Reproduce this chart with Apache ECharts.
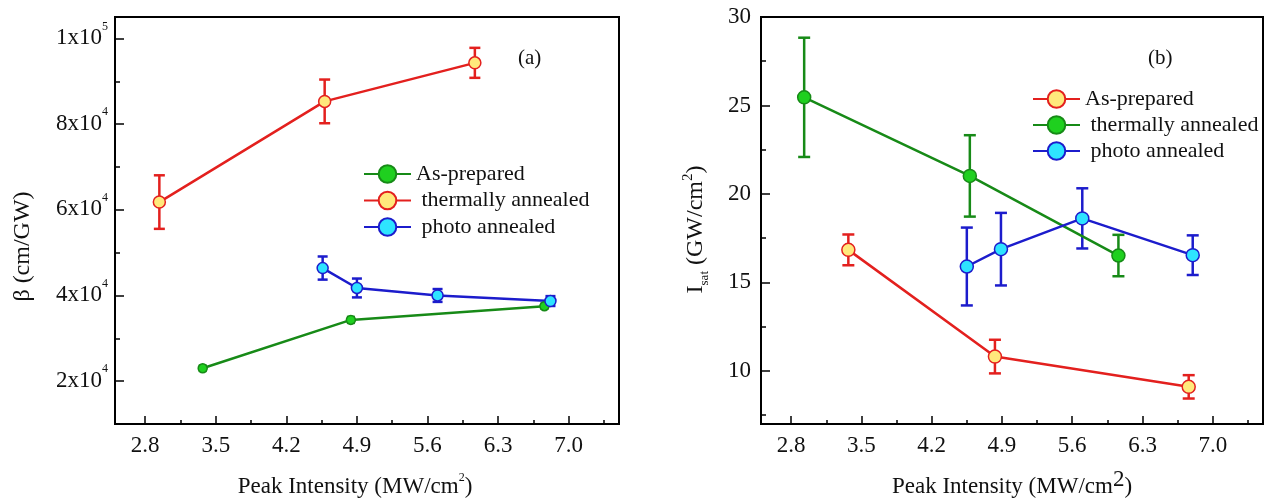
<!DOCTYPE html>
<html>
<head>
<meta charset="utf-8">
<script src="https://cdn.jsdelivr.net/npm/echarts@6/dist/echarts.min.js"></script>
<style>
html,body{margin:0;padding:0;background:#fff;}
#chart{width:1267px;height:502px;}
</style>
</head>
<body>
<div id="chart"></div>
<script>
// ---- tick values / labels ----
const xTicks = [2.8, 3.5, 4.2, 4.9, 5.6, 6.3, 7.0];
const xMinorTicks = [3.15, 3.85, 4.55, 5.25, 5.95, 6.65, 7.35];
const aYTicks = [20000, 40000, 60000, 80000, 100000];
const aYTickMantissa = ['2', '4', '6', '8', '1'];
const aYTickExponent = ['4', '4', '4', '4', '5'];
const aYMinorTicks = [30000, 50000, 70000, 90000];
const bYTicks = [10, 15, 20, 25, 30];
const bYMinorTicks = [7.5, 12.5, 17.5, 22.5, 27.5];

// ---- panel (a): beta (cm/GW) ----
const aAsPreparedX = [3.37, 4.84, 6.76];
const aAsPreparedY = [23000, 34300, 37500];
const aAsPreparedErr = [600, 700, 600];
const aThermalX = [2.94, 4.58, 6.07];
const aThermalY = [61800, 85300, 94300];
const aThermalErr = [6250, 5100, 3500];
const aPhotoX = [4.56, 4.90, 5.70, 6.82];
const aPhotoY = [46400, 41750, 40000, 38700];
const aPhotoErr = [2700, 2200, 1500, 1150];

// ---- panel (b): Isat (GW/cm2) ----
const bAsPreparedX = [3.37, 4.83, 6.76];
const bAsPreparedY = [16.84, 10.81, 9.10];
const bAsPreparedErr = [0.87, 0.95, 0.66];
const bThermalX = [2.93, 4.58, 6.06];
const bThermalY = [25.46, 21.02, 16.52];
const bThermalErr = [3.37, 2.3, 1.17];
const bPhotoX = [4.55, 4.89, 5.70, 6.80];
const bPhotoY = [15.9, 16.88, 18.62, 16.54];
const bPhotoErr = [2.2, 2.05, 1.7, 1.12];

const FONT = 'Liberation Serif';
const RED = '#e3201e', YEL = '#ffe97c';
const GRN = '#178a17', GRNF = '#1fd01f';
const BLU = '#1c1ccc', CYA = '#2ee4ff';

function pts(xs, ys) { return xs.map((x, i) => [x, ys[i]]); }
function errRows(xs, ys, es) { return xs.map((x, i) => [x, ys[i], es[i]]); }

function errSeries(name, xi, yi, rows, color, capW) {
  return {
    type: 'custom', name: name, xAxisIndex: xi, yAxisIndex: yi, z: 2,
    data: rows, encode: { x: 0, y: 1 }, silent: true,
    renderItem: function (params, api) {
      const x = api.value(0), y = api.value(1), e = api.value(2);
      const t = api.coord([x, y + e]), b = api.coord([x, y - e]);
      const h = capW / 2;
      const st = { stroke: color, lineWidth: 2.5, fill: null };
      return { type: 'group', children: [
        { type: 'line', shape: { x1: t[0], y1: t[1], x2: b[0], y2: b[1] }, style: st },
        { type: 'line', shape: { x1: t[0] - h, y1: t[1], x2: t[0] + h, y2: t[1] }, style: st },
        { type: 'line', shape: { x1: b[0] - h, y1: b[1], x2: b[0] + h, y2: b[1] }, style: st }
      ]};
    }
  };
}
function lineSeries(name, xi, yi, data, lineColor, fill, border, size) {
  return {
    type: 'line', name: name, xAxisIndex: xi, yAxisIndex: yi, z: 3,
    data: data, symbol: 'circle', symbolSize: size,
    lineStyle: { color: lineColor, width: 2.5 },
    itemStyle: { color: fill, borderColor: border, borderWidth: 1.5 }
  };
}

function mainX(grid, nameRich, nameRichStyle, namePad, gap) {
  return {
    type: 'value', gridIndex: grid, min: 2.5, max: 7.5,
    axisLine: { show: true, onZero: false, lineStyle: { color: '#000', width: 2 } },
    axisTick: { show: true, inside: true, length: 8, customValues: xTicks, lineStyle: { color: '#000', width: 1.5 } },
    axisLabel: { customValues: xTicks, formatter: v => v.toFixed(1), fontFamily: FONT, fontSize: 23, color: '#111', margin: 10 },
    splitLine: { show: false },
    name: nameRich, nameLocation: 'middle', nameGap: gap,
    nameTextStyle: { rich: nameRichStyle, color: '#111', padding: namePad }
  };
}
function minorX(grid) {
  return {
    type: 'value', gridIndex: grid, min: 2.5, max: 7.5, position: 'bottom',
    axisLine: { show: false, onZero: false },
    axisTick: { show: true, inside: true, length: 4, customValues: xMinorTicks, lineStyle: { color: '#000', width: 1.5 } },
    axisLabel: { show: false }, splitLine: { show: false }
  };
}

const option = {
  animation: false,
  backgroundColor: '#fff',
  grid: [
    { left: 115, top: 17, width: 504, height: 407, show: true, borderColor: '#000', borderWidth: 2, outerBoundsMode: 'none' },
    { left: 761, top: 17, width: 502, height: 407, show: true, borderColor: '#000', borderWidth: 2, outerBoundsMode: 'none' }
  ],
  xAxis: [
    mainX(0, '{a|Peak Intensity (MW/cm}{s|2}{a|)}', {
      a: { fontFamily: FONT, fontSize: 23, lineHeight: 26, verticalAlign: 'bottom', color: '#111' },
      s: { fontFamily: FONT, fontSize: 12, lineHeight: 12, verticalAlign: 'top', color: '#111' } }, [0, 24, 0, 0], 48),
    minorX(0),
    mainX(1, '{a|Peak Intensity (MW/cm}{s|2}{a|)}', {
      a: { fontFamily: FONT, fontSize: 23, lineHeight: 30, verticalAlign: 'bottom', color: '#111' },
      s: { fontFamily: FONT, fontSize: 23, lineHeight: 23, verticalAlign: 'top', color: '#111' } }, [0, 0, 0, 0], 44),
    minorX(1)
  ],
  yAxis: [
    {
      type: 'value', gridIndex: 0, min: 10000, max: 105000,
      axisLine: { show: true, onZero: false, lineStyle: { color: '#000', width: 2 } },
      axisTick: { show: true, inside: true, length: 9, customValues: aYTicks, lineStyle: { color: '#000', width: 1.5 } },
      axisLabel: {
        customValues: aYTicks, margin: 7, color: '#111', padding: [0, 0, 7, 0],
        formatter: function (v) {
          const i = aYTicks.indexOf(v);
          return '{m|' + aYTickMantissa[i] + 'x10}{e|' + aYTickExponent[i] + '}';
        },
        rich: {
          m: { fontFamily: FONT, fontSize: 23, lineHeight: 29, verticalAlign: 'bottom', color: '#111' },
          e: { fontFamily: FONT, fontSize: 12, lineHeight: 12, verticalAlign: 'top', color: '#111' }
        }
      },
      splitLine: { show: false },
      name: 'β (cm/GW)', nameLocation: 'middle', nameRotate: 90, nameGap: 80,
      nameTextStyle: { fontFamily: FONT, fontSize: 24, color: '#111', padding: [0, 52, 0, 0] }
    },
    {
      type: 'value', gridIndex: 0, min: 10000, max: 105000, position: 'left',
      axisLine: { show: false, onZero: false },
      axisTick: { show: true, inside: true, length: 5, customValues: aYMinorTicks, lineStyle: { color: '#000', width: 1.5 } },
      axisLabel: { show: false }, splitLine: { show: false }
    },
    {
      type: 'value', gridIndex: 1, min: 7, max: 30,
      axisLine: { show: true, onZero: false, lineStyle: { color: '#000', width: 2 } },
      axisTick: { show: true, inside: true, length: 9, customValues: bYTicks, lineStyle: { color: '#000', width: 1.5 } },
      axisLabel: { customValues: bYTicks, fontFamily: FONT, fontSize: 23, color: '#111', margin: 10 },
      splitLine: { show: false },
      name: '{i|I}{sub|sat}{i| (GW/cm}{sup|2}{i|)}', nameLocation: 'middle', nameRotate: 90, nameGap: 50,
      nameTextStyle: {
        color: '#111', padding: [0, 18, 0, 0],
        rich: {
          i: { fontFamily: FONT, fontSize: 24, lineHeight: 30, verticalAlign: 'middle', color: '#111' },
          sub: { fontFamily: FONT, fontSize: 13, lineHeight: 13, verticalAlign: 'bottom', color: '#111' },
          sup: { fontFamily: FONT, fontSize: 15, lineHeight: 15, verticalAlign: 'top', color: '#111' }
        }
      }
    },
    {
      type: 'value', gridIndex: 1, min: 7, max: 30, position: 'left',
      axisLine: { show: false, onZero: false },
      axisTick: { show: true, inside: true, length: 5, customValues: bYMinorTicks, lineStyle: { color: '#000', width: 1.5 } },
      axisLabel: { show: false }, splitLine: { show: false }
    }
  ],
  legend: [
    {
      orient: 'vertical', left: 363, top: 163, padding: 0, itemGap: 4.5,
      itemWidth: 47, itemHeight: 22, selectedMode: false,
      data: ['a|As-prepared', 'a| thermally annealed', 'a| photo annealed'],
      formatter: n => n.slice(2),
      textStyle: { fontFamily: FONT, fontSize: 22, lineHeight: 22, color: '#111' }
    },
    {
      orient: 'vertical', left: 1032, top: 88, padding: 0, itemGap: 4,
      itemWidth: 47, itemHeight: 22, selectedMode: false,
      data: ['b|As-prepared', 'b| thermally annealed', 'b| photo annealed'],
      formatter: n => n.slice(2),
      textStyle: { fontFamily: FONT, fontSize: 22, lineHeight: 22, color: '#111' }
    }
  ],
  graphic: [
    { type: 'text', left: 518, top: 48, style: { text: '(a)', fontFamily: FONT, fontSize: 21, fill: '#111' } },
    { type: 'text', left: 1148, top: 48, style: { text: '(b)', fontFamily: FONT, fontSize: 21, fill: '#111' } }
  ],
  series: [
    errSeries('errA1', 0, 0, errRows(aAsPreparedX, aAsPreparedY, aAsPreparedErr), GRN, 8),
    errSeries('errA2', 0, 0, errRows(aThermalX, aThermalY, aThermalErr), RED, 11),
    errSeries('errA3', 0, 0, errRows(aPhotoX, aPhotoY, aPhotoErr), BLU, 10),
    lineSeries('a|As-prepared', 0, 0, pts(aAsPreparedX, aAsPreparedY), GRN, GRNF, GRN, 9),
    lineSeries('a| thermally annealed', 0, 0, pts(aThermalX, aThermalY), RED, YEL, RED, 12),
    lineSeries('a| photo annealed', 0, 0, pts(aPhotoX, aPhotoY), BLU, CYA, BLU, 11),
    errSeries('errB1', 2, 2, errRows(bAsPreparedX, bAsPreparedY, bAsPreparedErr), RED, 12),
    errSeries('errB2', 2, 2, errRows(bThermalX, bThermalY, bThermalErr), GRN, 12),
    errSeries('errB3', 2, 2, errRows(bPhotoX, bPhotoY, bPhotoErr), BLU, 12),
    lineSeries('b|As-prepared', 2, 2, pts(bAsPreparedX, bAsPreparedY), RED, YEL, RED, 13),
    lineSeries('b| thermally annealed', 2, 2, pts(bThermalX, bThermalY), GRN, GRNF, GRN, 13),
    lineSeries('b| photo annealed', 2, 2, pts(bPhotoX, bPhotoY), BLU, CYA, BLU, 13)
  ]
};

const chart = echarts.init(document.getElementById('chart'), null, { renderer: 'canvas' });
chart.setOption(option);
</script>
</body>
</html>
